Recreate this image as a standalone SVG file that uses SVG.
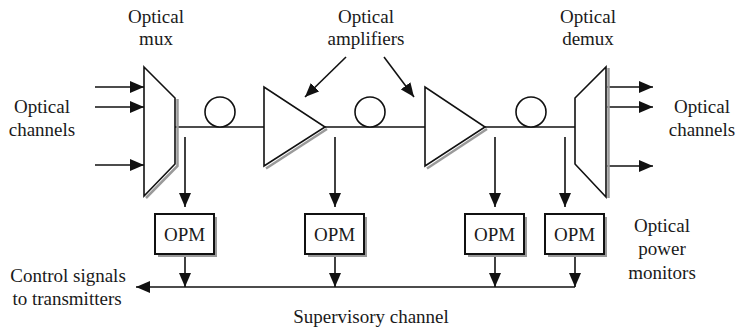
<svg xmlns="http://www.w3.org/2000/svg" width="737" height="327" viewBox="0 0 737 327">
<defs>
<marker id="ah" markerUnits="userSpaceOnUse" markerWidth="16" markerHeight="12" refX="14" refY="6" orient="auto">
<path d="M0,0 L14,6 L0,12 Z" fill="#111"/>
</marker>
<style>
text{font-family:"Liberation Serif","Times New Roman",serif;font-size:19px;fill:#1a1a1a;text-anchor:middle}
.ln{stroke:#111;stroke-width:1.6;fill:none}
.ar{stroke:#111;stroke-width:1.6;fill:none;marker-end:url(#ah)}
.sh{stroke:#9a9a9a;stroke-width:2.5;fill:none}
.sym{stroke:#111;stroke-width:1.6;fill:#fff}
.box{stroke:#111;stroke-width:2;fill:#fff}
.bsh{fill:#9a9a9a}
</style>
</defs>
<rect width="737" height="327" fill="#fff"/>

<g id="labels">
<text x="156" y="23">Optical</text><text x="156" y="45">mux</text>
<text x="366" y="23">Optical</text><text x="366" y="45">amplifiers</text>
<text x="588" y="23">Optical</text><text x="588" y="45">demux</text>
<text x="42" y="113">Optical</text><text x="42" y="136">channels</text>
<text x="702" y="113">Optical</text><text x="702" y="136">channels</text>
<text x="662" y="232">Optical</text><text x="662" y="255">power</text><text x="662" y="279">monitors</text>
<text x="68" y="282">Control signals</text><text x="67" y="305">to transmitters</text>
<text x="371" y="323">Supervisory channel</text>
</g>

<g id="connectors">
<line class="ar" x1="95" y1="87" x2="144" y2="87"/>
<line class="ar" x1="95" y1="107" x2="144" y2="107"/>
<line class="ar" x1="95" y1="165" x2="144" y2="165"/>
<line class="ar" x1="607" y1="87" x2="653" y2="87"/>
<line class="ar" x1="607" y1="107" x2="653" y2="107"/>
<line class="ar" x1="607" y1="166" x2="653" y2="166"/>
<line class="ln" x1="175" y1="127" x2="264" y2="127"/>
<line class="ln" x1="325" y1="127" x2="425" y2="127"/>
<line class="ln" x1="485" y1="127" x2="575" y2="127"/>
<line class="ar" x1="346" y1="57" x2="305" y2="97"/>
<line class="ar" x1="384" y1="57" x2="414" y2="97"/>
<line class="ar" x1="185" y1="137" x2="185" y2="207"/>
<line class="ar" x1="335" y1="137" x2="335" y2="207"/>
<line class="ar" x1="495" y1="137" x2="495" y2="207"/>
<line class="ar" x1="565" y1="137" x2="565" y2="207"/>
<line class="ar" x1="185" y1="254" x2="185" y2="287"/>
<line class="ar" x1="335" y1="254" x2="335" y2="287"/>
<line class="ar" x1="495" y1="254" x2="495" y2="287"/>
<line class="ar" x1="575" y1="254" x2="575" y2="287"/>
<line class="ar" x1="575" y1="287" x2="136" y2="287"/>
</g>

<g id="mux">
<polyline class="sh" points="177.5,99 177.5,166 146,198"/>
<polygon class="sym" points="144,67 175,98 175,164 144,196"/>
</g>
<g id="fiber1"><circle class="sym" cx="220" cy="112" r="15"/></g>
<g id="amp1">
<line class="sh" x1="266" y1="168.5" x2="327" y2="129"/>
<polygon class="sym" points="264,87 264,166 325,127"/>
</g>
<g id="fiber2"><circle class="sym" cx="370" cy="112" r="15"/></g>
<g id="amp2">
<line class="sh" x1="427" y1="168.5" x2="487" y2="129"/>
<polygon class="sym" points="425,87 425,166 485,127"/>
</g>
<g id="fiber3"><circle class="sym" cx="531" cy="112" r="15"/></g>
<g id="demux">
<line class="sh" x1="608.5" y1="68" x2="608.5" y2="198"/>
<polygon class="sym" points="606,67 606,197 575,164 575,98"/>
</g>

<g id="opm1"><rect class="bsh" x="158" y="217" width="59" height="40"/><rect class="box" x="155" y="214" width="59" height="40"/><text x="184.5" y="241">OPM</text></g>
<g id="opm2"><rect class="bsh" x="308" y="217" width="59" height="40"/><rect class="box" x="305" y="214" width="59" height="40"/><text x="334.5" y="241">OPM</text></g>
<g id="opm3"><rect class="bsh" x="468" y="217" width="59" height="40"/><rect class="box" x="465" y="214" width="59" height="40"/><text x="494.5" y="241">OPM</text></g>
<g id="opm4"><rect class="bsh" x="548" y="217" width="59" height="40"/><rect class="box" x="545" y="214" width="59" height="40"/><text x="574.5" y="241">OPM</text></g>
</svg>
